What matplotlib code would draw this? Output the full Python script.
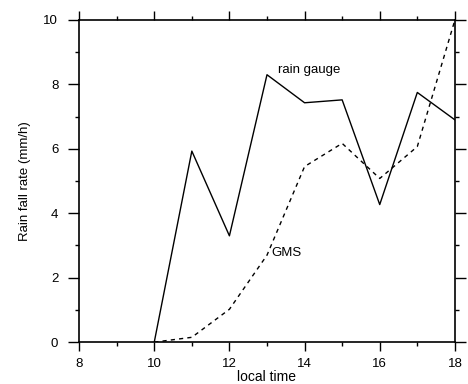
import matplotlib.pyplot as plt
from matplotlib.ticker import MultipleLocator

plt.rcParams['font.family'] = ['Liberation Sans', 'DejaVu Sans']

# hourly values
hours = [10, 11, 12, 13, 14, 15, 16, 17, 18]
rain_gauge = [0.0, 5.93, 3.3, 8.3, 7.43, 7.52, 4.27, 7.75, 6.9]
gms = [0.0, 0.15, 1.02, 2.7, 5.45, 6.17, 5.08, 6.07, 10.0]

fig = plt.figure(figsize=(4.68, 3.84), dpi=100)
ax = fig.add_axes([0.169, 0.109, 0.803, 0.839])

ax.plot(hours, rain_gauge, color='black', lw=1.0)
ax.plot(hours, gms, color='black', lw=1.0, linestyle=(0, (3, 3)))

ax.text(13.3, 8.45, 'rain gauge', fontsize=9.5, va='center')
ax.text(13.12, 2.76, 'GMS', fontsize=9.5, va='center')

ax.set_xlim(8, 18)
ax.set_ylim(0, 10)
ax.xaxis.set_major_locator(MultipleLocator(2))
ax.xaxis.set_minor_locator(MultipleLocator(1))
ax.yaxis.set_major_locator(MultipleLocator(2))
ax.yaxis.set_minor_locator(MultipleLocator(1))
ax.tick_params(which='both', direction='out', top=True, right=True,
               labelsize=9.5, width=1.0)
ax.tick_params(which='major', length=6.5)
ax.tick_params(which='minor', length=3)
ax.tick_params(axis='y', which='major', length=8, pad=7)
ax.tick_params(axis='x', which='major', pad=5)

for s in ax.spines.values():
    s.set_linewidth(1.2)

ax.set_xlabel('local time', fontsize=10, labelpad=0)
ax.set_ylabel('Rain fall rate (mm/h)', fontsize=9.5, labelpad=9)

fig.savefig('out.png', dpi=100)
